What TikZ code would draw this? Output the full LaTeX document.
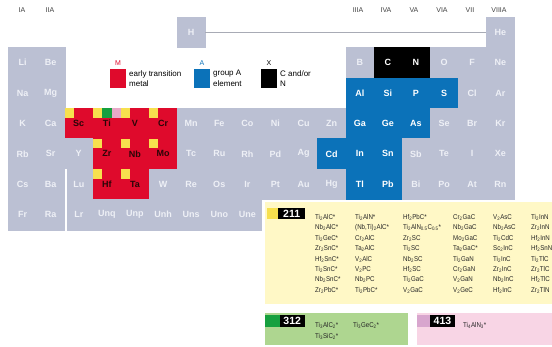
\documentclass[tikz,border=0pt]{standalone}
\usepackage{fontspec}
\setmainfont{Liberation Sans}
\newfontfamily\formfont[FakeStretch=0.88]{Liberation Sans}
\definecolor{cellgray}{HTML}{BBC0D3}
\definecolor{celltext}{HTML}{EEF0F6}
\definecolor{mred}{HTML}{DF0A2C}
\definecolor{mtext}{HTML}{2A0507}
\definecolor{ablue}{HTML}{0B72B9}
\definecolor{swyellow}{HTML}{F7E04E}
\definecolor{swgreen}{HTML}{16A03F}
\definecolor{swpink}{HTML}{E8A9C8}
\definecolor{boxyellow}{HTML}{FFF8C6}
\definecolor{boxgreen}{HTML}{AED690}
\definecolor{boxpink}{HTML}{F8D5E5}
\definecolor{swmauve}{HTML}{D8A6CE}
\definecolor{grouptext}{HTML}{404040}
\definecolor{linkgray}{HTML}{A8ABB5}

\newcommand\ssb[1]{\textsubscript{#1}}

\begin{document}
\begin{tikzpicture}[x=1pt,y=-1pt,
  cell/.style={minimum width=28.1pt, minimum height=30.4pt, inner sep=0pt,
    outer sep=0pt, line width=0.4pt, font=\fontsize{9}{9}\selectfont\bfseries},
  gcell/.style={cell, fill=cellgray, draw=cellgray, text=celltext},
  mcell/.style={cell, fill=mred, draw=mred, text=mtext},
  acell/.style={cell, fill=ablue, draw=ablue, text=white},
  xcell/.style={cell, fill=black, draw=black, text=white},
  grp/.style={font=\fontsize{7}{7}\selectfont, text=grouptext, inner sep=0pt},
  legsq/.style={minimum width=16pt, minimum height=19pt, inner sep=0pt, outer sep=0pt},
  leglet/.style={font=\fontsize{7}{7}\selectfont, inner sep=0pt, anchor=base},
  legtxt/.style={font=\fontsize{8}{10.5}\selectfont, align=left, inner sep=0pt, anchor=west},
  panel/.style={inner sep=0pt, outer sep=0pt, anchor=north west},
  swatch/.style={inner sep=0pt, outer sep=0pt, anchor=north west},
  numlbl/.style={fill=black, text=white, inner sep=0pt, outer sep=0pt, anchor=north west,
    font=\fontsize{10.5}{10.5}\selectfont\bfseries},
  form/.style={font=\formfont\fontsize{7}{7}\selectfont, inner sep=0pt, anchor=base west, text=black!85}
]
\useasboundingbox (0,0) rectangle (552,347);

% group headings
\node[grp] (gIA)    at (22,10)  {IA};
\node[grp] (gIIA)   at (50,10)  {IIA};
\node[grp] (gIIIA)  at (358,10) {IIIA};
\node[grp] (gIVA)   at (386,10) {IVA};
\node[grp] (gVA)    at (414,10) {VA};
\node[grp] (gVIA)   at (442,10) {VIA};
\node[grp] (gVII)   at (470,10) {VII};
\node[grp] (gVIIIA) at (499,10) {VIIIA};

% element cells
\foreach \c/\r/\s/\k in {
  7/1/H/gcell, 18/1/He/gcell,
  1/2/Li/gcell, 2/2/Be/gcell, 13/2/B/gcell, 14/2/C/xcell, 15/2/N/xcell, 16/2/O/gcell, 17/2/F/gcell, 18/2/Ne/gcell,
  1/3/Na/gcell, 2/3/Mg/gcell, 13/3/Al/acell, 14/3/Si/acell, 15/3/P/acell, 16/3/S/acell, 17/3/Cl/gcell, 18/3/Ar/gcell,
  1/4/K/gcell, 2/4/Ca/gcell, 3/4/Sc/mcell, 4/4/Ti/mcell, 5/4/V/mcell, 6/4/Cr/mcell, 7/4/Mn/gcell, 8/4/Fe/gcell,
  9/4/Co/gcell, 10/4/Ni/gcell, 11/4/Cu/gcell, 12/4/Zn/gcell, 13/4/Ga/acell, 14/4/Ge/acell, 15/4/As/acell,
  16/4/Se/gcell, 17/4/Br/gcell, 18/4/Kr/gcell,
  1/5/Rb/gcell, 2/5/Sr/gcell, 3/5/Y/gcell, 4/5/Zr/mcell, 5/5/Nb/mcell, 6/5/Mo/mcell, 7/5/Tc/gcell, 8/5/Ru/gcell,
  9/5/Rh/gcell, 10/5/Pd/gcell, 11/5/Ag/gcell, 12/5/Cd/acell, 13/5/In/acell, 14/5/Sn/acell, 15/5/Sb/gcell,
  16/5/Te/gcell, 17/5/I/gcell, 18/5/Xe/gcell,
  1/6/Cs/gcell, 2/6/Ba/gcell, 3/6/Lu/gcell, 4/6/Hf/mcell, 5/6/Ta/mcell, 6/6/W/gcell, 7/6/Re/gcell, 8/6/Os/gcell,
  9/6/Ir/gcell, 10/6/Pt/gcell, 11/6/Au/gcell, 12/6/Hg/gcell, 13/6/Tl/acell, 14/6/Pb/acell, 15/6/Bi/gcell,
  16/6/Po/gcell, 17/6/At/gcell, 18/6/Rn/gcell,
  1/7/Fr/gcell, 2/7/Ra/gcell, 3/7/Lr/gcell, 4/7/Unq/gcell, 5/7/Unp/gcell, 6/7/Unh/gcell, 7/7/Uns/gcell,
  8/7/Uno/gcell, 9/7/Une/gcell}
  \node[\k] (\s) at ({8.5+28.1*(\c-0.5)}, {17+30.4*(\r-0.5)}) {\s};

% split between the s-block and the lanthanide/actinide rows
\fill[white] (64.6,169) rectangle (66.8,230.6);

% link from H to He
\draw[linkgray, line width=0.6pt] (H.east) -- (He.west);

% markers on the M elements
\foreach \e in {Sc,Ti,V,Cr,Zr,Nb,Mo,Hf,Ta}
  \fill[swyellow] (\e.north west) rectangle ++(9.4,9.8);
\fill[swgreen] ([xshift=9.4pt]Ti.north west) rectangle ++(9.4,9.8);
\fill[swpink] ([xshift=18.8pt]Ti.north west) rectangle ++(9.4,9.8);

% legend
\node[legsq, fill=mred]  (legM) at (117.5,78.5) {};
\node[legsq, fill=ablue] (legA) at (202,78.5) {};
\node[legsq, fill=black] (legX) at (268.5,78.5) {};
\node[leglet, text=mred]  (ltM) at (118,66) {M};
\node[leglet, text=ablue] (ltA) at (202,66) {A};
\node[leglet, text=black] (ltX) at (269,66) {X};
\node[legtxt] (txM) at (129,78.5) {early transition\\metal};
\node[legtxt] (txA) at (213,78.5) {group A\\element};
\node[legtxt] (txX) at (280,78.5) {C and/or\\N};

% 211 panel
\node[panel, fill=boxyellow, minimum width=287pt, minimum height=102pt] (p211) at (265,202) {};
\node[swatch, fill=swyellow, minimum width=11.6pt, minimum height=11pt] (s211) at (266.7,208.3) {};
\node[numlbl, minimum width=26.7pt, minimum height=11pt] (l211) at (278.3,208.3) {211};

\foreach \f [count=\i from 0] in {Ti\ssb{2}AlC*, Nb\ssb{2}AlC*, Ti\ssb{2}GeC*, Zr\ssb{2}SnC*,
    Hf\ssb{2}SnC*, Ti\ssb{2}SnC*, Nb\ssb{2}SnC*, Zr\ssb{2}PbC*}
  \node[form] (fa\i) at (315,{219.5+10.4*\i}) {\f};
\foreach \f [count=\i from 0] in {Ti\ssb{2}AlN*, {(Nb,Ti)\ssb{2}AlC*}, Cr\ssb{2}AlC, Ta\ssb{2}AlC,
    V\ssb{2}AlC, V\ssb{2}PC, Nb\ssb{2}PC, Ti\ssb{2}PbC*}
  \node[form] (fb\i) at (355,{219.5+10.4*\i}) {\f};
\foreach \f [count=\i from 0] in {Hf\ssb{2}PbC*, Ti\ssb{2}AlN\ssb{0.5}C\ssb{0.5}*, Zr\ssb{2}SC, Ti\ssb{2}SC,
    Nb\ssb{2}SC, Hf\ssb{2}SC, Ti\ssb{2}GaC, V\ssb{2}GaC}
  \node[form] (fc\i) at (403,{219.5+10.4*\i}) {\f};
\foreach \f [count=\i from 0] in {Cr\ssb{2}GaC, Nb\ssb{2}GaC, Mo\ssb{2}GaC, Ta\ssb{2}GaC*,
    Ti\ssb{2}GaN, Cr\ssb{2}GaN, V\ssb{2}GaN, V\ssb{2}GeC}
  \node[form] (fd\i) at (453,{219.5+10.4*\i}) {\f};
\foreach \f [count=\i from 0] in {V\ssb{2}AsC, Nb\ssb{2}AsC, Ti\ssb{2}CdC, Sc\ssb{2}InC,
    Ti\ssb{2}InC, Zr\ssb{2}InC, Nb\ssb{2}InC, Hf\ssb{2}InC}
  \node[form] (fe\i) at (493,{219.5+10.4*\i}) {\f};
\foreach \f [count=\i from 0] in {Ti\ssb{2}InN, Zr\ssb{2}InN, Hf\ssb{2}InN, Hf\ssb{2}SnN,
    Ti\ssb{2}TlC, Zr\ssb{2}TlC, Hf\ssb{2}TlC, Zr\ssb{2}TlN}
  \node[form] (ff\i) at (531,{219.5+10.4*\i}) {\f};

% 312 panel
\node[panel, fill=boxgreen, minimum width=143pt, minimum height=32pt] (p312) at (265,313) {};
\node[swatch, fill=swgreen, minimum width=14.5pt, minimum height=12pt] (s312) at (265,315) {};
\node[numlbl, minimum width=25.5pt, minimum height=12pt] (l312) at (279.5,315) {312};
\node[form] (g1) at (315,327.5) {Ti\ssb{3}AlC\ssb{2}*};
\node[form] (g2) at (353,327.5) {Ti\ssb{3}GeC\ssb{2}*};
\node[form] (g3) at (315,338.5) {Ti\ssb{3}SiC\ssb{2}*};

% 413 panel
\node[panel, fill=boxpink, minimum width=135pt, minimum height=32pt] (p413) at (417,313) {};
\node[swatch, fill=swmauve, minimum width=13pt, minimum height=12pt] (s413) at (417,315) {};
\node[numlbl, minimum width=25pt, minimum height=12pt] (l413) at (430,315) {413};
\node[form] (h1) at (463,327.5) {Ti\ssb{4}AlN\ssb{3}*};
\end{tikzpicture}
\end{document}
